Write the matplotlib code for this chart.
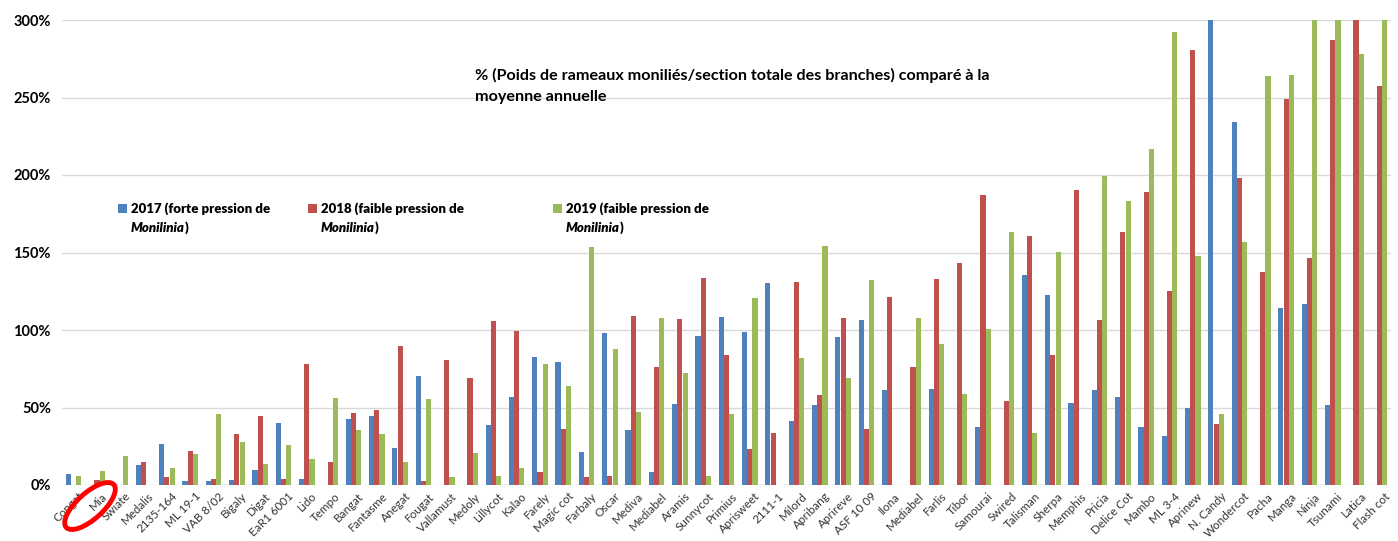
import numpy as np
import matplotlib
matplotlib.use("Agg")
import matplotlib.pyplot as plt
from matplotlib.patches import Ellipse
from matplotlib.legend import Legend
from matplotlib.transforms import IdentityTransform

plt.rcParams['font.family'] = ['Lato', 'DejaVu Sans']

varieties = ["Congat", "Mia", "Swiate", "Medalis", "2135-164", "ML 19-1", "VAB 8/02",
             "Bigaly", "Digat", "EaR1 6001", "Lido", "Tempo", "Bangat", "Fantasme",
             "Anegat", "Fougat", "Vallamust", "Medoly", "Lillycot", "Kalao", "Farely",
             "Magic cot", "Farbaly", "Oscar", "Mediva", "Mediabel", "Aramis", "Sunnycot",
             "Primius", "Aprisweet", "2111-1", "Milord", "Apribang", "Aprireve",
             "ASF 10 09", "Ilona", "Mediabel", "Farlis", "Tibor", "Samourai", "Swired",
             "Talisman", "Sherpa", "Memphis", "Pricia", "Delice Cot", "Mambo", "ML 3-4",
             "Aprinew", "N. Candy", "Wondercot", "Pacha", "Manga", "Ninja", "Tsunami",
             "Latica", "Flash cot"]

# % compared to yearly mean (values above 300% are cut by the axis)
y2017 = [7, 0, 0, 13, 26.5, 2.5, 2.5, 3, 10, 40, 4, 0, 42.5, 44.5, 24, 70.3, 0, 0,
         38.7, 56.8, 82.6, 79.4, 21.3, 98, 35.5, 8.4, 52, 96, 108.4, 98.7, 130.3,
         41.3, 51.6, 95.5, 106.5, 61.3, 0, 62, 0, 37.4, 0, 135.5, 122.6, 53, 61.3,
         56.8, 37.4, 31.6, 49.7, 320, 234, 0, 114.2, 116.8, 51.6, 0, 0]
y2018 = [0, 3, 0, 15, 5, 22, 4, 33, 44.5, 4, 78, 15, 46.5, 48.4, 89.7, 2.6, 80.6, 69,
         105.8, 99.4, 8.4, 36, 5, 5.8, 109, 76, 107, 133.5, 84, 23.2, 33.5, 131, 58,
         107.7, 36, 121.3, 76, 132.9, 143.2, 187, 54, 160.6, 84, 190.3, 106.5, 163.2,
         189, 125.2, 280.6, 39.4, 198, 137.4, 249, 146.5, 287, 320, 257.4]
y2019 = [6, 9, 19, 0, 11, 20, 46, 28, 13.5, 26, 17, 56, 35.5, 33, 15, 55.5, 5, 20.6,
         5.8, 11, 78, 64, 153.5, 87.7, 47, 107.7, 72, 5.8, 45.8, 120.6, 0, 82, 154, 69,
         132, 0, 107.7, 91, 58.7, 100.6, 163, 33.5, 150.3, 0, 199.4, 183.2, 216.8,
         292.3, 147.7, 45.8, 156.8, 263.9, 264.5, 320, 320, 278, 320]

labels = ["2017 (forte pression de", "2018 (faible pression de", "2019 (faible pression de"]
colors = ["#4F81BD", "#C0504D", "#9BBB59"]

fig = plt.figure(figsize=(13.98, 5.41), dpi=100)
ax = fig.add_axes([62 / 1398, 56 / 541, 1329 / 1398, 465 / 541])

x = np.arange(len(varieties))
w = 0.22
bars = []
for i, (vals, c) in enumerate(zip([y2017, y2018, y2019], colors)):
    b = ax.bar(x + (i - 1) * 0.225, vals, width=w, color=c, zorder=2)
    bars.append(b)

ax.set_xlim(-0.5, len(varieties) - 0.5)
ax.set_ylim(0, 300)
ax.set_yticks(np.arange(0, 301, 50))
ax.set_yticklabels([f"{v}%" for v in range(0, 301, 50)], fontsize=10.5,
                   fontweight='bold', color='#000000')
ax.grid(axis='y', color='#d9d9d9', linewidth=1, zorder=0)
for s in ax.spines.values():
    s.set_visible(False)
ax.tick_params(axis='both', length=0)
ax.tick_params(axis='y', pad=8)

ax.set_xticks(x + 0.2)
ax.set_xticklabels(varieties, rotation=45, ha='right', rotation_mode='anchor',
                   fontsize=8.4, color='#333333')
ax.tick_params(axis='x', pad=4)

# separate legend blocks like the original (second line in italics)
leg_pos = [118, 308, 553]
for b, lab, px in zip(bars, labels, leg_pos):
    leg = Legend(fig, [b], [lab], loc='center left', frameon=False,
                 bbox_to_anchor=(px / 1398, 1 - 209 / 541),
                 bbox_transform=fig.transFigure,
                 handlelength=0.68, handleheight=0.68, handletextpad=0.3,
                 prop={'family': 'Lato', 'weight': 'heavy', 'size': 9.5},
                 borderaxespad=0, borderpad=0)
    fig.legends.append(leg)
    t = fig.text((px + 13) / 1398, 1 - 228 / 541, "Monilinia", ha='left', va='center',
                 fontsize=9.5, fontweight='heavy', fontstyle='italic')
    ax.annotate(")", xy=(1, 0), xycoords=t, ha='left', va='bottom',
                fontsize=9.5, fontweight='heavy', annotation_clip=False)

fig.text(475 / 1398, 1 - 75 / 541,
         "% (Poids de rameaux moniliés/section totale des branches) comparé à la",
         ha='left', va='center', fontsize=11.6, fontweight='bold')
fig.text(475 / 1398, 1 - 97 / 541, "moyenne annuelle",
         ha='left', va='center', fontsize=11.6, fontweight='bold')

# red circle around "Mia"
fig.patches.append(Ellipse((90, 541 - 506), 64, 26, angle=42, fill=False,
                           edgecolor='#ff0000', linewidth=3.5,
                           transform=IdentityTransform()))

fig.savefig("out.png", dpi=100)
